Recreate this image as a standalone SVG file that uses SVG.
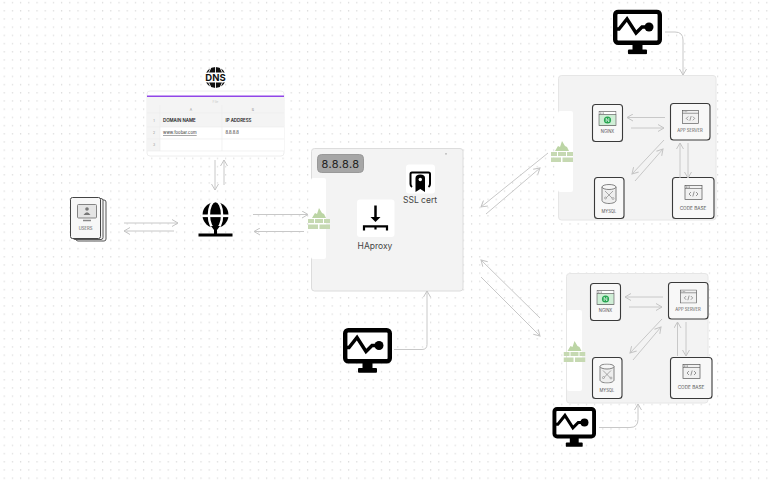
<svg xmlns="http://www.w3.org/2000/svg" width="773" height="484" viewBox="0 0 773 484">
<style>
text{font-family:"Inter","Liberation Sans",sans-serif;fill:#333}
.panel{fill:#f3f3f3;stroke:#dcdcdc;stroke-width:1}
.strip{fill:#fff}
.card{fill:#f8f8f8;stroke:#3a3a3a;stroke-width:1.1}
.lab{font-size:4.2px;text-anchor:middle;fill:#555}
.lab2{font-size:4.7px;text-anchor:middle;fill:#555}
.cap{font-size:8.5px;text-anchor:middle;fill:#444}
.cn path,.cn line{fill:none;stroke:#c8c8c8;stroke-width:1;marker-end:url(#a)}
.th{font-size:4.4px;font-weight:600;fill:#222}
.td{font-size:4.2px;fill:#333}
.gr{font-size:3.5px;fill:#999;text-anchor:middle}
</style>
<defs>
<pattern id="dots" width="8.2" height="8.2" patternUnits="userSpaceOnUse"><rect x="3.600" y="2" width="1.200" height="1.200" fill="#d6d6d6"/></pattern>
<marker id="a" viewBox="0 0 8 8" refX="7" refY="4" markerWidth="8" markerHeight="8" orient="auto" markerUnits="userSpaceOnUse"><path d="M1 .5 7 4 1 7.5" fill="none" stroke="#c4c4c4" stroke-width="1"/></marker>
<symbol id="monitor" viewBox="0 0 49 45">
<rect x="2.200" y="2.200" width="44.600" height="31" rx="3" fill="#fff" stroke="#000" stroke-width="4.400"/>
<rect x="19.500" y="34" width="10" height="7" fill="#000"/><rect x="15" y="40" width="19" height="4.800" rx="1" fill="#000"/>
<path d="M3.500 19.500H6L14 9.500 23 23.500 29 17.500H36" fill="none" stroke="#000" stroke-width="3.400"/><circle cx="36" cy="17.500" r="4.500" fill="#000"/>
</symbol>
<symbol id="fw" viewBox="0 0 22 21">
<path d="M4 10 7 5 9 6 11 0 14 5 16 6 18 10Z" fill="#bcd5a5"/>
<g fill="#c6d9b2"><rect x="0" y="11" width="6" height="4"/><rect x="7" y="11" width="8" height="4"/><rect x="16" y="11" width="6" height="4"/><rect x="0" y="16.500" width="10" height="4.500"/><rect x="11.500" y="16.500" width="10.500" height="4.500"/></g>
</symbol>
<symbol id="nginx" viewBox="0 0 18 15"><rect x=".5" y=".5" width="17" height="14" fill="#fff" stroke="#666" stroke-width=".7"/><rect x=".5" y="3.500" width="17" height="11" fill="#cfeed6" stroke="#666" stroke-width=".7"/><circle cx="9" cy="9" r="3.600" fill="#28a652"/><path d="M7.700 11V7.300L10.300 10.800V7" fill="none" stroke="#fff" stroke-width=".7"/><g fill="#666"><circle cx="2" cy="2" r=".5"/><circle cx="3.500" cy="2" r=".5"/><circle cx="5" cy="2" r=".5"/></g></symbol>
<symbol id="code" viewBox="0 0 18 15"><rect x=".5" y=".5" width="17" height="14" fill="#f1f1f1" stroke="#555" stroke-width=".7"/><path d="M.5 3.500H17.500" stroke="#555" stroke-width=".6"/><path d="M6.500 7 4.500 9 6.500 11M11.500 7 13.500 9 11.500 11M9.700 6.500 8.300 11.500" fill="none" stroke="#555" stroke-width=".6"/><g fill="#555"><circle cx="2" cy="2" r=".5"/><circle cx="3.500" cy="2" r=".5"/><circle cx="5" cy="2" r=".5"/></g></symbol>
<symbol id="db" viewBox="0 0 16 20"><path d="M1 3V16.500C1 18 4 19.500 8 19.500S15 18 15 16.500V3" fill="#eee" stroke="#666" stroke-width=".8"/><ellipse cx="8" cy="3" rx="7" ry="2.500" fill="#f6f6f6" stroke="#666" stroke-width=".8"/><path d="M4 7 12 15M12 7 4 15" stroke="#777" stroke-width=".6"/><circle cx="4.500" cy="14" r="1" fill="#eee" stroke="#777" stroke-width=".5"/><circle cx="12" cy="14.500" r="1" fill="#eee" stroke="#777" stroke-width=".5"/></symbol>
</defs>
<rect width="773" height="484" fill="#fff"/>
<rect width="773" height="484" fill="url(#dots)"/>

<g id="dns-icon">
<circle cx="215.500" cy="77.500" r="10.500" fill="#111"/>
<path d="M211 67.500Q208 72 208 77.500T211 87.500M220 67.500Q223 72 223 77.500T220 87.500M215.500 67V88" fill="none" stroke="#fff" stroke-width=".9"/>
<rect x="204" y="72.500" width="23" height="10" fill="#fff"/>
<text x="215.500" y="81" font-size="9.500" font-weight="700" text-anchor="middle" style="fill:#111">DNS</text>
</g>

<g id="dns-table">
<rect x="147" y="91" width="137" height="65" rx="3" fill="#fff" stroke="#eee"/>
<rect x="147" y="97" width="137" height="54" fill="#f4f4f4"/>
<rect x="160" y="127" width="124" height="24" fill="#fff"/>
<rect x="147" y="95.500" width="137" height="1.500" fill="#9146e8"/>
<path d="M147 113H284M147 127H284M147 139H284M147 151H284M160 105V151M222 105V151" stroke="#ececec" stroke-width=".7" fill="none"/>
<text x="215.500" y="103" class="gr" style="fill:#ccc">File</text>
<text x="191" y="110.500" class="gr">A</text><text x="253" y="110.500" class="gr">B</text>
<text x="154" y="121.500" class="gr">1</text><text x="154" y="134" class="gr">2</text><text x="154" y="146" class="gr">3</text>
<text x="163" y="121.500" class="th">DOMAIN NAME</text><text x="225.500" y="121.500" class="th">IP ADDRESS</text>
<text x="163" y="134" class="td" text-decoration="underline">www.foobar.com</text><text x="225.500" y="134" class="td">8.8.8.8</text>
</g>

<g id="users">
<rect x="76" y="200" width="30" height="41" rx="2" fill="#f6f6f6" stroke="#444" stroke-width=".9"/>
<rect x="73" y="198.500" width="30" height="41" rx="2" fill="#f6f6f6" stroke="#444" stroke-width=".9"/>
<rect x="70.500" y="197.500" width="30" height="41" rx="2" fill="#f7f7f7" stroke="#444" stroke-width="1"/>
<rect x="77.500" y="204.500" width="19" height="13.500" rx="1" fill="#e4e4e4" stroke="#777" stroke-width=".9"/>
<circle cx="87" cy="209" r="1.800" fill="#777"/><path d="M83.500 215Q87 209.500 90.500 215Z" fill="#777"/>
<path d="M83 220.500H91" stroke="#888" stroke-width="1.500"/>
<text x="85.500" y="229.500" class="lab">USERS</text>
</g>

<g id="globe">
<circle cx="215.500" cy="215" r="13" fill="#000"/>
<ellipse cx="215.500" cy="215" rx="6.600" ry="14" fill="none" stroke="#fff" stroke-width="2.400"/>
<rect x="201" y="214.500" width="29" height="2.600" fill="#fff"/>
<path d="M211 226H220L217 230V234H214V230Z" fill="#000"/>
<rect x="198.500" y="233.500" width="34" height="3" fill="#000"/>
</g>

<g id="lb-panel">
<rect x="311.500" y="148.500" width="151.500" height="142.500" rx="3" class="panel"/>
<rect x="311" y="178" width="15" height="81" rx="2" class="strip"/>
<rect x="445" y="153.500" width="2" height=".8" fill="#999"/>
</g>
<g id="ip-badge">
<rect x="317.500" y="154.500" width="46" height="18" rx="4" fill="#a6a6a6" stroke="#999"/>
<text x="340.500" y="168" font-size="11" text-anchor="middle" style="letter-spacing:.4px;fill:#222">8.8.8.8</text>
</g>
<g id="ssl-cert">
<rect x="406" y="164.500" width="29" height="29" rx="3" fill="#fff"/>
<path d="M412 187Q410.500 186 410.500 184V174Q410.500 172.500 412 172.500H428.500Q430 172.500 430 174V184Q430 186 428.500 187" fill="none" stroke="#000" stroke-width="2"/>
<path d="M415.500 178Q415.500 174.500 420.300 174.500T425 178V192L420.300 189 415.500 192Z" fill="#000"/><circle cx="420.300" cy="179.500" r="1.700" fill="#fff"/>
<text x="420" y="203" class="cap">SSL cert</text>
</g>
<g id="haproxy">
<rect x="357" y="199.500" width="37.500" height="37.500" rx="3" fill="#fff"/>
<path d="M375.500 205.500V218" stroke="#000" stroke-width="2.500"/>
<path d="M370.500 217H380.500L375.500 222Z" fill="#000"/>
<path d="M364 230.500V226.300H387V230.500M375.500 226V229.500" fill="none" stroke="#000" stroke-width="2.200"/>
<text x="375" y="248.500" class="cap">HAproxy</text>
</g>
<use id="fw-lb" href="#fw" x="308" y="208" width="22" height="21"/>

<g id="server-top">
<rect x="558.500" y="75.500" width="157.500" height="144.500" rx="3" class="panel" style="stroke:#e6e6e6"/>
<rect x="558" y="111" width="15" height="81" rx="2" class="strip"/>
</g>
<use id="fw-top" href="#fw" x="551" y="141" width="22" height="21"/>
<g id="nginx-top"><rect x="592.500" y="104.500" width="30" height="37" rx="3" class="card"/><use href="#nginx" x="598.500" y="111" width="18" height="15"/><text x="607.500" y="133" class="lab">NGINX</text></g>
<g id="app-top"><rect x="670.500" y="103.500" width="39.500" height="36.500" rx="3" class="card"/><use href="#code" x="682" y="110" width="17" height="14"/><text x="690" y="132" class="lab">APP SERVER</text></g>
<g id="mysql-top"><rect x="594.500" y="177.500" width="29.500" height="41" rx="3" class="card"/><use href="#db" x="600" y="184" width="18" height="20"/><text x="609" y="212.500" class="lab">MYSQL</text></g>
<g id="code-top"><rect x="672.500" y="177.500" width="41.500" height="41" rx="3" class="card"/><use href="#code" x="684" y="185" width="19" height="15"/><text x="693" y="209.500" class="lab2">CODE BASE</text></g>

<g id="server-bottom">
<rect x="566.500" y="273.500" width="141.500" height="129.500" rx="3" class="panel" style="stroke:#e6e6e6"/>
<rect x="567" y="310" width="15" height="81" rx="2" class="strip"/>
</g>
<use id="fw-bottom" href="#fw" x="563.500" y="341" width="22" height="21"/>
<g id="nginx-bottom"><rect x="590.500" y="283.500" width="30" height="37" rx="3" class="card"/><use href="#nginx" x="596.500" y="290" width="18" height="15"/><text x="605.500" y="312" class="lab">NGINX</text></g>
<g id="app-bottom"><rect x="668.500" y="282.500" width="39.500" height="36.500" rx="3" class="card"/><use href="#code" x="680" y="289.500" width="17" height="14"/><text x="688" y="311" class="lab">APP SERVER</text></g>
<g id="mysql-bottom"><rect x="592.500" y="357.500" width="29.500" height="41" rx="3" class="card"/><use href="#db" x="598" y="363.500" width="18" height="20"/><text x="607" y="391.500" class="lab">MYSQL</text></g>
<g id="code-bottom"><rect x="670.500" y="357.500" width="41.500" height="41" rx="3" class="card"/><use href="#code" x="682" y="364" width="19" height="15"/><text x="691" y="388.500" class="lab2">CODE BASE</text></g>

<use id="monitor-top" href="#monitor" x="613" y="9.500" width="49" height="45"/>
<use id="monitor-lb" href="#monitor" x="343" y="328" width="49" height="45"/>
<use id="monitor-bottom" href="#monitor" x="552" y="407" width="44.500" height="40"/>

<g id="connectors" class="cn">
<line x1="124" y1="223" x2="178" y2="223"/><line x1="174" y1="231" x2="124" y2="231"/>
<line x1="215" y1="160" x2="215" y2="190"/><line x1="224" y1="185" x2="224" y2="160"/>
<line x1="253" y1="214.500" x2="308" y2="214.500"/><line x1="304" y1="231.500" x2="254" y2="231.500"/>
<line x1="548" y1="153" x2="481" y2="207"/><line x1="486" y1="214" x2="540" y2="168"/>
<line x1="540" y1="318" x2="481" y2="260"/><line x1="481" y1="277" x2="540" y2="336"/>
<path d="M394 349.500H422Q427 349.500 427 344.500V291"/>
<path d="M665 32H675Q683 32 683 40V75"/>
<path d="M599 427.500H630Q638 427.500 638 419.500V404"/>
<line x1="665" y1="117.500" x2="627" y2="117.500"/><line x1="631" y1="128" x2="664" y2="128"/>
<line x1="664" y1="140" x2="632" y2="174"/><line x1="635" y1="181" x2="663" y2="149"/>
<line x1="680" y1="178" x2="680" y2="143"/><line x1="688" y1="143" x2="688" y2="178"/>
<line x1="663" y1="297" x2="625" y2="297"/><line x1="629" y1="307" x2="662" y2="307"/>
<line x1="662" y1="319" x2="630" y2="353"/><line x1="633" y1="360" x2="661" y2="327"/>
<line x1="677.500" y1="356" x2="677.500" y2="322"/><line x1="686" y1="322" x2="686" y2="356"/>
</g>
</svg>
